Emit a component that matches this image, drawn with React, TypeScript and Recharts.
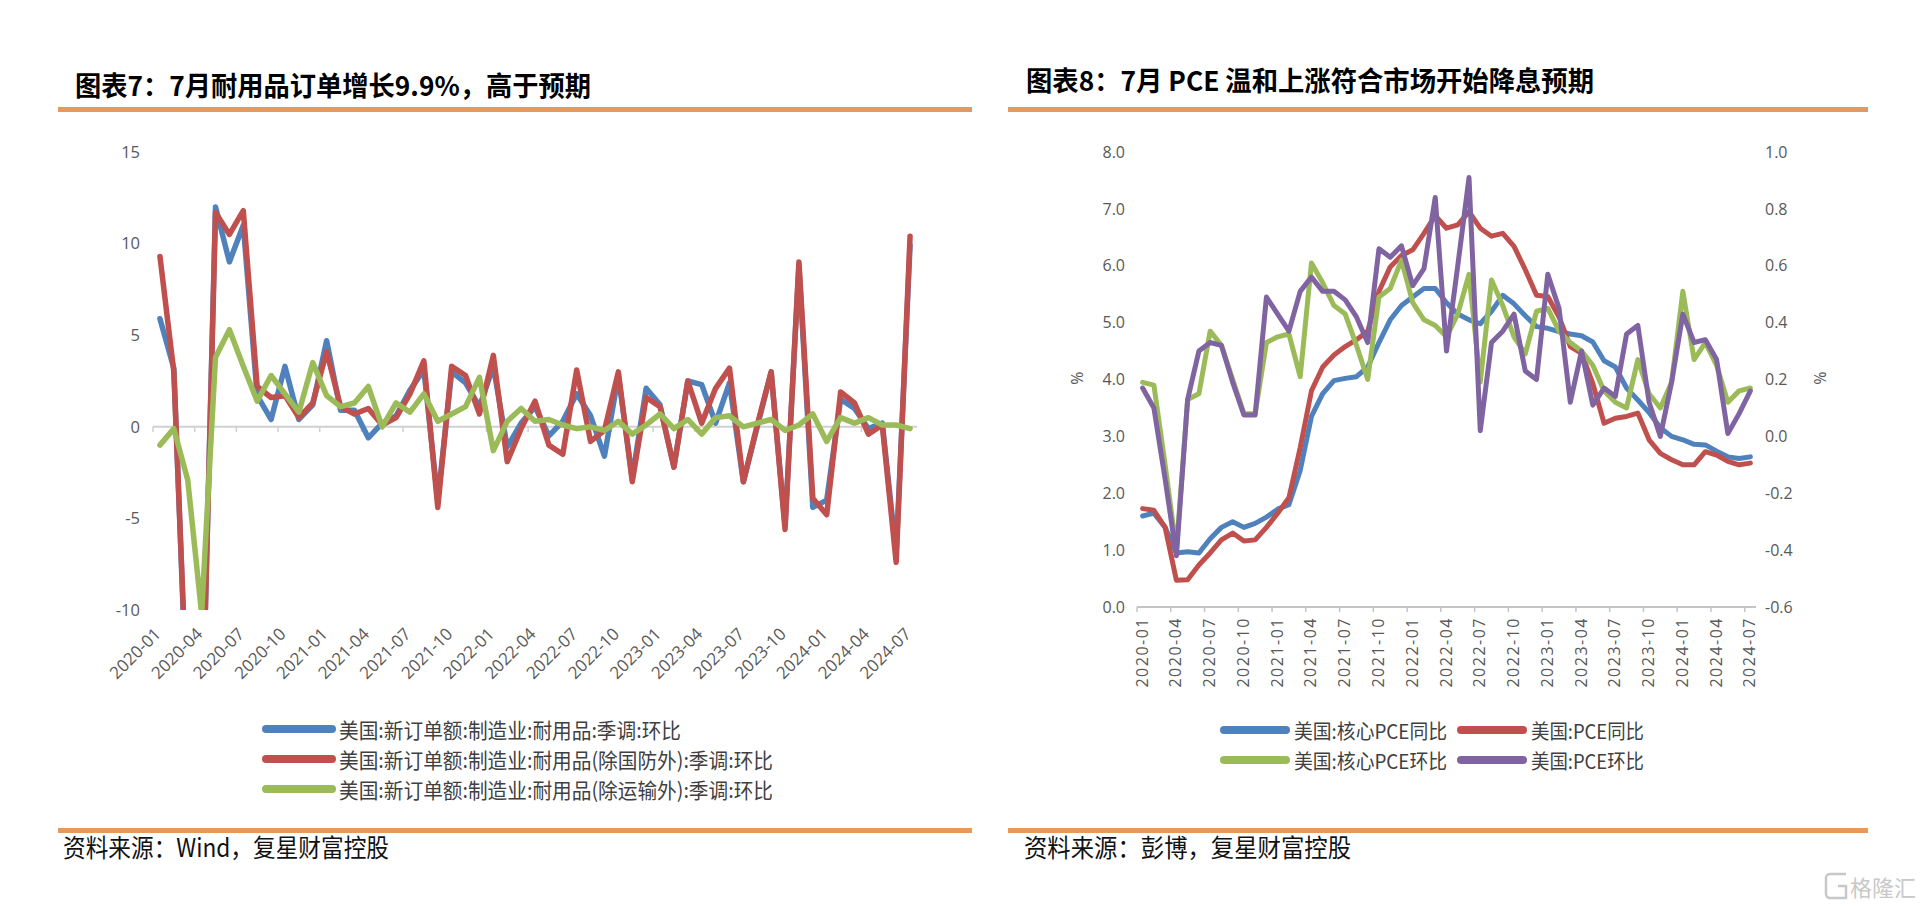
import React from 'react';
import { LineChart, Line, XAxis, YAxis, ReferenceLine } from 'recharts';

const categories = [
  '2020-01','2020-02','2020-03','2020-04','2020-05','2020-06','2020-07','2020-08','2020-09','2020-10','2020-11','2020-12',
  '2021-01','2021-02','2021-03','2021-04','2021-05','2021-06','2021-07','2021-08','2021-09','2021-10','2021-11','2021-12',
  '2022-01','2022-02','2022-03','2022-04','2022-05','2022-06','2022-07','2022-08','2022-09','2022-10','2022-11','2022-12',
  '2023-01','2023-02','2023-03','2023-04','2023-05','2023-06','2023-07','2023-08','2023-09','2023-10','2023-11','2023-12',
  '2024-01','2024-02','2024-03','2024-04','2024-05','2024-06','2024-07',
];

const tickIndices = [0, 3, 6, 9, 12, 15, 18, 21, 24, 27, 30, 33, 36, 39, 42, 45, 48, 51, 54];
const boundaryTicks = [-0.5, 2.5, 5.5, 8.5, 11.5, 14.5, 17.5, 20.5, 23.5, 26.5, 29.5, 32.5, 35.5, 38.5, 41.5, 44.5, 47.5, 50.5, 53.5];

// 图表7 series
const durableTotal = [
  5.9, 3.2, -16.5, -18.0, 12.0, 9.0, 11.0, 1.7, 0.4, 3.3, 0.4, 1.2,
  4.7, 0.9, 0.9, -0.6, 0.2, 0.6, 2.0, 3.1, -4.0, 3.0, 2.4, 1.1,
  3.3, -1.1, 0.2, 1.1, -0.5, 0.3, 1.8, 0.6, -1.6, 2.8, -2.8, 2.1,
  1.2, -2.2, 2.5, 2.3, 0.2, 2.4, -3.0, 0.0, 3.0, -5.4, 8.8, -4.4,
  -4.0, 1.5, 1.0, -0.1, 0.2, -6.9, 9.9,
];
const durableExDefense = [
  9.3, 3.0, -16.0, -18.0, 11.7, 10.5, 11.8, 2.2, 1.6, 1.7, 0.5, 1.3,
  4.1, 1.1, 0.7, 1.0, 0.1, 0.5, 1.8, 3.6, -4.4, 3.3, 2.8, 0.7,
  3.9, -1.9, -0.1, 1.4, -1.0, -1.5, 3.1, -0.8, -0.2, 3.0, -3.0, 1.6,
  1.1, -2.2, 2.5, 0.2, 2.1, 3.2, -3.0, 0.1, 3.0, -5.6, 9.0, -3.9,
  -4.8, 1.9, 1.3, -0.4, 0.1, -7.4, 10.4,
];
const durableExTransport = [
  -1.0, -0.1, -2.9, -10.2, 3.8, 5.3, 3.3, 1.4, 2.8, 1.8, 0.8, 3.5,
  1.7, 1.1, 1.3, 2.2, 0.0, 1.3, 0.8, 1.8, 0.3, 0.7, 1.1, 2.7,
  -1.3, 0.3, 1.0, 0.3, 0.4, 0.1, -0.1, 0.0, -0.2, 0.3, -0.4, 0.1,
  0.7, -0.1, 0.4, -0.4, 0.5, 0.6, 0.0, 0.2, 0.4, -0.2, 0.1, 0.7,
  -0.8, 0.5, 0.2, 0.5, 0.1, 0.1, -0.1,
];

// 图表8 series
const corePceYoY = [
  1.6, 1.65, 1.4, 0.95, 0.97, 0.95, 1.2, 1.4, 1.5, 1.4, 1.47, 1.58,
  1.72, 1.8, 2.4, 3.35, 3.75, 3.98, 4.02, 4.05, 4.22, 4.65, 5.05, 5.3,
  5.45, 5.6, 5.6, 5.35, 5.15, 5.05, 4.98, 5.2, 5.48, 5.33, 5.12, 4.93,
  4.9, 4.84, 4.8, 4.77, 4.66, 4.33, 4.22, 3.85, 3.64, 3.42, 3.15, 3.0,
  2.94, 2.86, 2.85, 2.74, 2.64, 2.61, 2.64,
];
const pceYoY = [
  1.73, 1.7, 1.4, 0.47, 0.48, 0.74, 0.95, 1.18, 1.3, 1.16, 1.18, 1.4,
  1.65, 1.92, 2.8, 3.8, 4.22, 4.43, 4.58, 4.7, 4.85, 5.55, 5.98, 6.18,
  6.28, 6.57, 6.88, 6.66, 6.72, 6.95, 6.66, 6.52, 6.57, 6.34, 5.93, 5.48,
  5.46, 5.1, 4.58, 4.46, 3.93, 3.23, 3.32, 3.35, 3.41, 2.94, 2.7, 2.59,
  2.5, 2.5, 2.73, 2.67, 2.56, 2.5, 2.53,
];
const corePceMoM = [
  0.19, 0.18, -0.1, -0.4, 0.13, 0.15, 0.37, 0.32, 0.2, 0.08, 0.08, 0.33,
  0.35, 0.36, 0.21, 0.61, 0.54, 0.46, 0.43, 0.32, 0.2, 0.49, 0.52, 0.62,
  0.47, 0.41, 0.39, 0.35, 0.43, 0.57, 0.19, 0.55, 0.46, 0.35, 0.29, 0.44,
  0.45, 0.37, 0.33, 0.3, 0.25, 0.16, 0.12, 0.1, 0.27, 0.15, 0.1, 0.19,
  0.51, 0.27, 0.33, 0.25, 0.12, 0.16, 0.17,
];
const pceMoM = [
  0.17, 0.1, -0.15, -0.42, 0.13, 0.3, 0.33, 0.32, 0.19, 0.075, 0.075, 0.49,
  0.43, 0.37, 0.51, 0.56, 0.51, 0.51, 0.48, 0.42, 0.33, 0.66, 0.63, 0.67,
  0.53, 0.59, 0.84, 0.3, 0.6, 0.91, 0.02, 0.33, 0.37, 0.43, 0.23, 0.2,
  0.57, 0.45, 0.12, 0.3, 0.11, 0.17, 0.14, 0.36, 0.39, 0.12, 0.0, 0.19,
  0.43, 0.33, 0.34, 0.27, 0.01, 0.08, 0.16,
];

const leftYTicks = [-10, -5, 0, 5, 10, 15];
const pceLeftTicks = [0, 1, 2, 3, 4, 5, 6, 7, 8];
const pceRightTicks = [-0.6, -0.4, -0.2, 0, 0.2, 0.4, 0.6, 0.8, 1.0];

const durableSeries = [
  { key: 'total', name: '美国:新订单额:制造业:耐用品:季调:环比', color: '#4F81BD', values: durableTotal },
  { key: 'exDefense', name: '美国:新订单额:制造业:耐用品(除国防外):季调:环比', color: '#C0504D', values: durableExDefense },
  { key: 'exTransport', name: '美国:新订单额:制造业:耐用品(除运输外):季调:环比', color: '#9BBB59', values: durableExTransport },
];
const pceSeries = [
  { key: 'coreYoY', name: '美国:核心PCE同比', color: '#4F81BD', values: corePceYoY, axis: 'left' },
  { key: 'pceYoY', name: '美国:PCE同比', color: '#C0504D', values: pceYoY, axis: 'left' },
  { key: 'coreMoM', name: '美国:核心PCE环比', color: '#9BBB59', values: corePceMoM, axis: 'right' },
  { key: 'pceMoM', name: '美国:PCE环比', color: '#8064A2', values: pceMoM, axis: 'right' },
];

const durableRows = categories.map((c, i) => {
  const row: any = { i, cat: c };
  durableSeries.forEach((s) => { row[s.key] = s.values[i]; });
  return row;
});
const pceRows = categories.map((c, i) => {
  const row: any = { i, cat: c };
  pceSeries.forEach((s) => { row[s.key] = s.values[i]; });
  return row;
});

const AX = '#595959';
const NUM_FONT = '"Open Sans", "Noto Sans", sans-serif';
const CJK_FONT = '"Noto Sans CJK SC", "Noto Sans", sans-serif';
const ORANGE = '#E59A5C';

const LeftXTick = (props: any) => {
  const { x, y, payload } = props;
  return (
    <g transform={`translate(${x + 2},${y + 25})`}>
      <text transform="rotate(-45)" textAnchor="end" fill={AX} fontSize={17} fontFamily={NUM_FONT}>
        {categories[payload.value]}
      </text>
    </g>
  );
};

const RightXTick = (props: any) => {
  const { x, y, payload } = props;
  return (
    <g transform={`translate(${x + 5},${y + 10})`}>
      <text transform="rotate(-90)" textAnchor="end" fill={AX} fontSize={16} fontFamily={NUM_FONT} letterSpacing={1.5}>
        {categories[payload.value]}
      </text>
    </g>
  );
};

const Overlay = () => (
  <svg width={1932} height={907} style={{ position: 'absolute', left: 0, top: 0 }}>
    <rect x={0} y={0} width={1932} height={907} fill="#ffffff" />
    {/* titles */}
    <text x={75} y={84} dominantBaseline="central" fontSize={27} fontWeight={700} fontFamily={CJK_FONT}
      fill="#000" textLength={516} lengthAdjust="spacingAndGlyphs">图表7：7月耐用品订单增长9.9%，高于预期</text>
    <text x={1026} y={79} dominantBaseline="central" fontSize={27} fontWeight={700} fontFamily={CJK_FONT}
      fill="#000" textLength={568} lengthAdjust="spacingAndGlyphs">图表8：7月 PCE 温和上涨符合市场开始降息预期</text>
    {/* orange rules */}
    <rect x={58} y={107} width={914} height={5} fill={ORANGE} />
    <rect x={1008} y={107} width={860} height={5} fill={ORANGE} />
    <rect x={58} y={828} width={914} height={5} fill={ORANGE} />
    <rect x={1008} y={828} width={860} height={5} fill={ORANGE} />
    {/* sources */}
    <text x={63} y={846} dominantBaseline="central" fontSize={25} fontFamily={CJK_FONT} fill="#111"
      textLength={326} lengthAdjust="spacingAndGlyphs">资料来源：Wind，复星财富控股</text>
    <text x={1024} y={846} dominantBaseline="central" fontSize={25} fontFamily={CJK_FONT} fill="#111"
      textLength={327} lengthAdjust="spacingAndGlyphs">资料来源：彭博，复星财富控股</text>
    {/* left legend */}
    {durableSeries.map((s, k) => (
      <g key={s.key}>
        <line x1={266} x2={332} y1={729 + k * 30} y2={729 + k * 30} stroke={s.color} strokeWidth={8} strokeLinecap="round" />
        <text x={339} y={729 + k * 30} dominantBaseline="central" fontSize={21} fontFamily={CJK_FONT} fill="#404040"
          textLength={k === 0 ? 342 : 434} lengthAdjust="spacingAndGlyphs">{s.name}</text>
      </g>
    ))}
    {/* right legend */}
    {pceSeries.map((s, k) => {
      const col = k % 2;
      const row = Math.floor(k / 2);
      const lx = col === 0 ? 1224 : 1461;
      const ty = 730 + row * 30;
      return (
        <g key={s.key}>
          <line x1={lx} x2={lx + 62} y1={ty} y2={ty} stroke={s.color} strokeWidth={8} strokeLinecap="round" />
          <text x={lx + 70} y={ty} dominantBaseline="central" fontSize={20} fontFamily={CJK_FONT} fill="#404040"
            textLength={col === 0 ? 153 : 113} lengthAdjust="spacingAndGlyphs">{s.name}</text>
        </g>
      );
    })}
    {/* % axis titles */}
    <text x={1077} y={378} textAnchor="middle" dominantBaseline="central" fontSize={16} fontFamily={NUM_FONT} fill={AX}
      transform="rotate(-90 1077 378)">%</text>
    <text x={1820} y={378} textAnchor="middle" dominantBaseline="central" fontSize={16} fontFamily={NUM_FONT} fill={AX}
      transform="rotate(90 1820 378)">%</text>
    {/* watermark */}
    <path d="M1846 874 h-16 a4 4 0 0 0 -4 4 v16 a4 4 0 0 0 4 4 h16 v-12 h-8" fill="none" stroke="#c8c8c8" strokeWidth={2.5} />
    <text x={1850} y={886} dominantBaseline="central" fontSize={22} fontFamily={CJK_FONT} fill="#c8c8c8">格隆汇</text>
  </svg>
);

const DurableChart = () => (
  <div style={{ position: 'absolute', left: 0, top: 0 }}>
    <LineChart width={980} height={700} data={durableRows} margin={{ top: 152, right: 63, bottom: 10, left: 93 }}>
      <XAxis type="number" dataKey="i" domain={[-0.5, 54.5]} ticks={tickIndices} interval={0} allowDataOverflow
        axisLine={false} tickLine={false} tickSize={0} tickMargin={0} height={80} tick={<LeftXTick />} />
      <YAxis domain={[-10, 15]} ticks={leftYTicks} interval={0} allowDataOverflow axisLine={false} tickLine={false}
        tickSize={0} tickMargin={13} width={60} tick={{ fill: AX, fontSize: 16.5, fontFamily: NUM_FONT }} />
      <ReferenceLine y={0} stroke="#d0d0d0" strokeWidth={2} />
      {boundaryTicks.map((b) => (
        <ReferenceLine key={b} segment={[{ x: b, y: 0 }, { x: b, y: -0.28 }]} stroke="#d0d0d0" strokeWidth={1.5} ifOverflow="visible" />
      ))}
      {durableSeries.map((s) => (
        <Line key={s.key} type="linear" dataKey={s.key} stroke={s.color} strokeWidth={5.5} dot={false}
          strokeLinejoin="round" strokeLinecap="round" isAnimationActive={false} />
      ))}
    </LineChart>
  </div>
);

const PceChart = () => (
  <div style={{ position: 'absolute', left: 990, top: 0 }}>
    <LineChart width={942} height={700} data={pceRows} margin={{ top: 152, right: 116, bottom: 3, left: 87 }}>
      <XAxis type="number" dataKey="i" domain={[-0.5, 54.5]} ticks={tickIndices} interval={0} allowDataOverflow
        axisLine={{ stroke: '#c4c4c4', strokeWidth: 2 }} tickLine={false} tickSize={0} tickMargin={0} height={90}
        tick={<RightXTick />} />
      <YAxis yAxisId="left" domain={[0, 8]} ticks={pceLeftTicks} interval={0} axisLine={false} tickLine={false}
        tickSize={0} tickMargin={12} width={60} tickFormatter={(v: number) => v.toFixed(1)}
        tick={{ fill: AX, fontSize: 16, fontFamily: NUM_FONT }} />
      <YAxis yAxisId="right" orientation="right" domain={[-0.6, 1.0]} ticks={pceRightTicks} interval={0}
        axisLine={false} tickLine={false} tickSize={0} tickMargin={9} width={60}
        tickFormatter={(v: number) => v.toFixed(1)} tick={{ fill: AX, fontSize: 16, fontFamily: NUM_FONT }} />
      {boundaryTicks.map((b) => (
        <ReferenceLine key={b} yAxisId="left" segment={[{ x: b, y: 0 }, { x: b, y: -0.09 }]} stroke="#c4c4c4"
          strokeWidth={1.5} ifOverflow="visible" />
      ))}
      {pceSeries.map((s) => (
        <Line key={s.key} yAxisId={s.axis} type="linear" dataKey={s.key} stroke={s.color} strokeWidth={5} dot={false}
          strokeLinejoin="round" strokeLinecap="round" isAnimationActive={false} />
      ))}
    </LineChart>
  </div>
);

export default function App() {
  return (
    <div style={{ position: 'absolute', left: 0, top: 0, width: 1932, height: 907, overflow: 'hidden', background: '#fff' }}>
      <Overlay />
      <DurableChart />
      <PceChart />
    </div>
  );
}
